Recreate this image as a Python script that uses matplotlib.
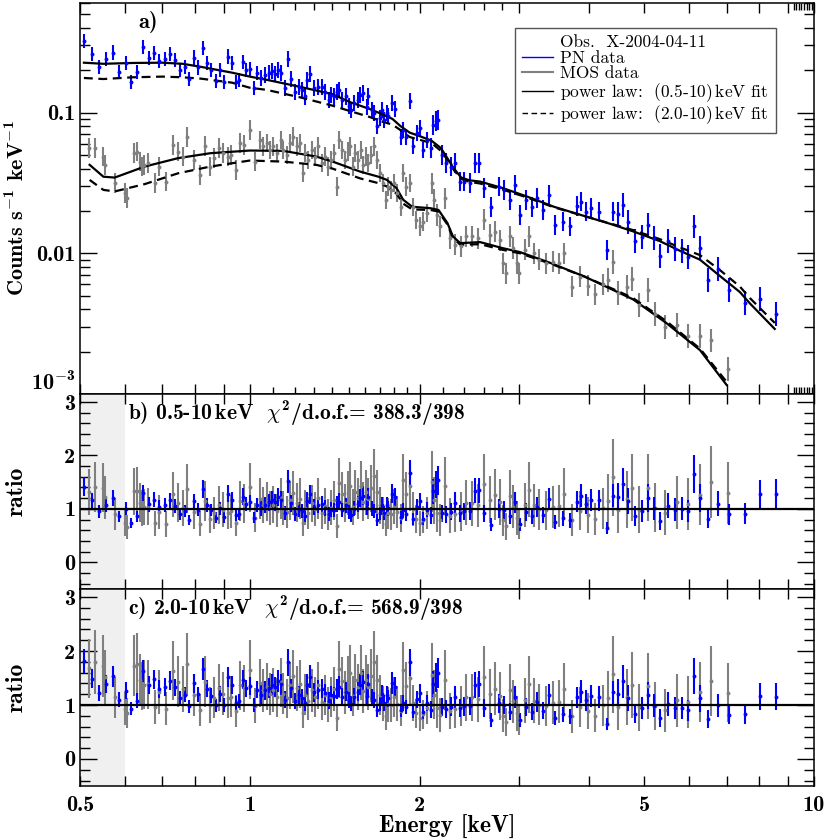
import numpy as np
import matplotlib
matplotlib.use('Agg')
import matplotlib.pyplot as plt
from matplotlib.lines import Line2D

plt.rcParams['font.family'] = 'cmb10'
plt.rcParams['mathtext.fontset'] = 'custom'
plt.rcParams['mathtext.rm'] = 'cmb10'
plt.rcParams['mathtext.bf'] = 'cmb10'
plt.rcParams['mathtext.it'] = 'cmmi10'
plt.rcParams['axes.unicode_minus'] = False

# PN spectrum (keV, counts/s/keV), error half-width in dex
pn_energy = [0.508, 0.525, 0.540, 0.556, 0.571, 0.586, 0.603, 0.615, 0.631, 0.647,
             0.662, 0.677, 0.690, 0.707, 0.722, 0.737, 0.752, 0.767, 0.780, 0.796,
             0.809, 0.826, 0.839, 0.853, 0.870, 0.884, 0.899, 0.914, 0.929, 0.944,
             0.957, 0.973, 0.985, 1.002, 1.016, 1.029,
             1.048, 1.065, 1.08, 1.093, 1.107, 1.122, 1.137, 1.155, 1.17, 1.185,
             1.20, 1.22, 1.235, 1.25, 1.265, 1.28, 1.30, 1.32, 1.34, 1.36,
             1.38, 1.39, 1.41, 1.43, 1.44, 1.457, 1.48, 1.50, 1.51, 1.53,
             1.556, 1.569, 1.59, 1.61, 1.62, 1.645, 1.66, 1.68, 1.70, 1.714,
             1.73, 1.75, 1.76, 1.785, 1.81, 1.85, 1.87, 1.89, 1.924, 1.95,
             1.98, 2.004, 2.03, 2.06,
             2.093, 2.115, 2.137, 2.157, 2.19, 2.23, 2.27, 2.31, 2.36, 2.40,
             2.458, 2.51, 2.55, 2.60, 2.68, 2.76, 2.82, 2.89, 2.95, 3.01,
             3.09, 3.16, 3.23, 3.31, 3.39, 3.47, 3.59, 3.70, 3.80, 3.87,
             3.94, 4.02, 4.16, 4.29, 4.41,
             4.50, 4.59, 4.68, 4.81, 4.95, 5.07, 5.2, 5.335, 5.5, 5.66,
             5.83, 5.99, 6.14, 6.27, 6.5, 6.77, 7.06, 7.54, 8.03, 8.56]
pn_flux = [0.32, 0.26, 0.212, 0.24, 0.267, 0.193, 0.224, 0.166, 0.193, 0.292,
           0.244, 0.265, 0.233, 0.24, 0.26, 0.237, 0.201, 0.212, 0.173, 0.246,
           0.209, 0.288, 0.224, 0.2, 0.168, 0.201, 0.166, 0.25, 0.224, 0.166,
           0.17, 0.227, 0.2, 0.203, 0.149, 0.19,
           0.175, 0.185, 0.19, 0.196, 0.187, 0.201, 0.19, 0.149, 0.24, 0.173,
           0.141, 0.152, 0.145, 0.13, 0.171, 0.187, 0.149, 0.153, 0.153, 0.141,
           0.123, 0.134, 0.13, 0.141, 0.145, 0.123, 0.13, 0.112, 0.1045, 0.116,
           0.123, 0.134, 0.137, 0.11, 0.13, 0.1045, 0.099, 0.08, 0.091, 0.1045,
           0.0887, 0.1, 0.094, 0.116, 0.106, 0.0675, 0.0753, 0.0675, 0.12, 0.0575,
           0.0715, 0.0775, 0.0543, 0.064,
           0.0557, 0.082, 0.0866, 0.0887, 0.05, 0.0437, 0.0413, 0.0437, 0.0323, 0.0323,
           0.0316, 0.0437, 0.0437, 0.029, 0.0214, 0.0298, 0.0282, 0.0239, 0.0305, 0.0187,
           0.0239, 0.0213, 0.0246, 0.0203, 0.026, 0.0159, 0.0168, 0.0155, 0.0217, 0.0233,
           0.0198, 0.0209, 0.0198, 0.0106, 0.0198,
           0.019, 0.022, 0.0168, 0.0122, 0.0131, 0.0159, 0.0128, 0.0095, 0.0122, 0.0107,
           0.0103, 0.0094, 0.0155, 0.0109, 0.0065, 0.0077, 0.0055, 0.0044, 0.0047, 0.0037]
pn_err_dex = [0.05] * 36 + [0.057] * 54 + [0.07] * 35 + [0.085] * 20

# MOS spectrum
mos_energy = [0.519, 0.532, 0.55, 0.553, 0.576, 0.60, 0.605, 0.623, 0.63, 0.64,
              0.645, 0.65, 0.66, 0.68, 0.69, 0.71, 0.73, 0.745, 0.76, 0.775,
              0.795, 0.817, 0.834, 0.85, 0.865, 0.883, 0.897, 0.913, 0.925, 0.944,
              0.96, 0.975, 1.0, 1.02,
              1.043, 1.057, 1.072, 1.086, 1.10, 1.117, 1.135, 1.147, 1.163, 1.178,
              1.194, 1.21, 1.228, 1.24, 1.254, 1.27, 1.288, 1.305, 1.322, 1.34,
              1.36, 1.377, 1.392, 1.41, 1.425, 1.44, 1.457, 1.473, 1.49, 1.506,
              1.522, 1.538, 1.555, 1.572, 1.59, 1.606, 1.623, 1.643, 1.662, 1.68,
              1.70, 1.72, 1.74, 1.76, 1.78, 1.80, 1.825, 1.85, 1.87, 1.89,
              1.92, 1.945, 1.97, 2.004, 2.03, 2.06,
              2.10, 2.12, 2.145, 2.175, 2.22, 2.265, 2.31, 2.37, 2.42, 2.48,
              2.54, 2.60, 2.66, 2.72, 2.78, 2.81, 2.85, 2.894, 2.93, 2.98,
              3.0, 3.07, 3.12, 3.19, 3.26, 3.35, 3.44, 3.53, 3.61, 3.73,
              3.85, 3.97, 4.09, 4.22,
              4.32, 4.41, 4.50, 4.66, 4.76, 4.90, 5.08, 5.23, 5.45, 5.72,
              5.99, 6.28, 6.58, 7.03]
mos_flux = [0.0557, 0.0557, 0.0487, 0.0425, 0.0314, 0.0267, 0.0246, 0.0514, 0.0528, 0.0448,
            0.0413, 0.0425, 0.0437, 0.0314, 0.0413, 0.0323, 0.0589, 0.0528, 0.0487, 0.0669,
            0.0461, 0.0361, 0.058, 0.0413, 0.0474, 0.0557, 0.0514, 0.0487, 0.05, 0.0391,
            0.0606, 0.0589, 0.0753, 0.0448,
            0.0639, 0.0575, 0.0606, 0.0543, 0.0575, 0.0514, 0.0639, 0.0543, 0.05, 0.0606,
            0.0675, 0.0575, 0.0606, 0.037, 0.0514, 0.0461, 0.0543, 0.0487, 0.0575, 0.0437,
            0.0487, 0.0413, 0.0461, 0.0514, 0.0298, 0.0639, 0.0543, 0.0461, 0.0528, 0.0575,
            0.0413, 0.0514, 0.0461, 0.0543, 0.0425, 0.0487, 0.0437, 0.05, 0.0575, 0.0461,
            0.037, 0.0314, 0.0239, 0.0298, 0.0282, 0.0314, 0.0267, 0.0214, 0.037, 0.0298,
            0.0314, 0.0214, 0.0173, 0.0155, 0.0168, 0.0193,
            0.0314, 0.0239, 0.0187, 0.0155, 0.0246, 0.0128, 0.0115, 0.0112, 0.0132, 0.0132,
            0.0128, 0.0173, 0.0135, 0.0142, 0.0124, 0.0085, 0.0072, 0.0132, 0.0109, 0.0085,
            0.0072, 0.0106, 0.0132, 0.01, 0.009, 0.0085, 0.0087, 0.0085, 0.01, 0.0058,
            0.0068, 0.0059, 0.0051, 0.006,
            0.0065, 0.0087, 0.0052, 0.0058, 0.0066, 0.0043, 0.0055, 0.0037, 0.003, 0.0031,
            0.0026, 0.0026, 0.0024, 0.0015]
mos_err_dex = [0.07] * 34 + [0.065] * 56 + [0.075] * 34 + [0.085] * 14
mos_ratio_relerr = [0.33] * 34 + [0.32] * 56 + [0.38] * 34 + [0.45] * 14

# power law fits, 0.5-10 keV (solid) and 2.0-10 keV (dashed)
pn_fit_e = [0.508, 0.55, 0.62, 0.70, 0.76, 0.82, 0.93, 1.0, 1.07, 1.23, 1.40, 1.51, 1.63,
            1.72, 1.79, 1.85, 1.92, 2.0, 2.1, 2.18, 2.25, 2.30, 2.37, 2.45, 2.56, 2.81,
            3.1, 3.46, 3.95, 4.35, 4.78, 5.33, 5.79, 6.28, 6.81, 7.39, 7.7, 8.52]
pn_fit_full = [0.226, 0.222, 0.225, 0.226, 0.222, 0.211, 0.192, 0.18, 0.171, 0.152, 0.135,
               0.118, 0.106, 0.097, 0.09, 0.08, 0.072, 0.068, 0.063, 0.056, 0.046, 0.04,
               0.0345, 0.033, 0.0323, 0.029, 0.0253, 0.0214, 0.0182, 0.0162, 0.0143,
               0.0122, 0.0104, 0.009, 0.0069, 0.0053, 0.0044, 0.0029]
pn_fit_hard = [0.176, 0.173, 0.178, 0.18, 0.178, 0.174, 0.163, 0.15, 0.145, 0.128, 0.112,
               0.102, 0.093, 0.086, 0.082, 0.075, 0.067, 0.064, 0.0606, 0.0535, 0.045,
               0.039, 0.0337, 0.0322, 0.0313, 0.0283, 0.0249, 0.0212, 0.0182, 0.0163,
               0.0146, 0.0126, 0.011, 0.0097, 0.0076, 0.0058, 0.0048, 0.0032]
mos_fit_e = [0.52, 0.55, 0.576, 0.651, 0.746, 0.851, 1.0, 1.146, 1.31, 1.40, 1.57, 1.69,
             1.75, 1.82, 1.87, 1.94, 2.09, 2.16, 2.24, 2.29, 2.36, 2.56, 2.8, 3.01, 3.42,
             3.93, 4.53, 4.78, 5.47, 6.28, 7.0]
mos_fit_full = [0.0425, 0.035, 0.0345, 0.0413, 0.0474, 0.0514, 0.0537, 0.0534, 0.0487,
                0.0449, 0.038, 0.035, 0.0332, 0.029, 0.024, 0.0214, 0.0209, 0.0203, 0.0164,
                0.0132, 0.0118, 0.012, 0.0109, 0.0102, 0.0085, 0.0068, 0.0052, 0.0047,
                0.0032, 0.00205, 0.00116]
mos_fit_hard = [0.0332, 0.0282, 0.0275, 0.031, 0.037, 0.0413, 0.0456, 0.0448, 0.0425,
                0.04, 0.034, 0.0315, 0.0298, 0.0265, 0.0225, 0.0205, 0.0203, 0.0198, 0.016,
                0.0129, 0.0115, 0.0116, 0.0106, 0.01, 0.0084, 0.0068, 0.0053, 0.0048,
                0.0033, 0.0021, 0.00122]

fit_labels = ['b) 0.5-10$\\,$keV  $\\chi^2$/d.o.f.= 388.3/398',
              'c) 2.0-10$\\,$keV  $\\chi^2$/d.o.f.= 568.9/398']

PN_COLOR = '#0000ff'
MOS_COLOR = '#808080'


def model_at(e, fit_e, fit_v):
    return 10 ** np.interp(np.log10(e), np.log10(fit_e), np.log10(fit_v))


pn_e = np.array(pn_energy)
pn_f = np.array(pn_flux)
pn_d = np.array(pn_err_dex)
mos_e = np.array(mos_energy)
mos_f = np.array(mos_flux)
mos_d = np.array(mos_err_dex)

fig = plt.figure(figsize=(8.3, 8.39), dpi=100)
ax_a = fig.add_axes([0.0964, 0.5304, 0.8843, 0.4660])
ax_b = fig.add_axes([0.0964, 0.2980, 0.8843, 0.2324])
ax_c = fig.add_axes([0.0964, 0.0632, 0.8843, 0.2348])

eb_kw = dict(fmt='o', ms=2.8, mew=0, capsize=0, elinewidth=1.5)

# spectra
ax_a.errorbar(mos_e, mos_f, yerr=[mos_f - mos_f * 10 ** -mos_d, mos_f * 10 ** mos_d - mos_f],
              color=MOS_COLOR, ecolor=MOS_COLOR, **eb_kw)
ax_a.errorbar(pn_e, pn_f, yerr=[pn_f - pn_f * 10 ** -pn_d, pn_f * 10 ** pn_d - pn_f],
              color=PN_COLOR, ecolor=PN_COLOR, **eb_kw)
ax_a.plot(pn_fit_e, pn_fit_full, color='black', lw=1.6)
ax_a.plot(pn_fit_e, pn_fit_hard, color='black', lw=1.6, ls=(0, (4, 2.5)))
ax_a.plot(mos_fit_e, mos_fit_full, color='black', lw=1.6)
ax_a.plot(mos_fit_e, mos_fit_hard, color='black', lw=1.6, ls=(0, (4, 2.5)))

ax_a.set_yscale('log')
ax_a.set_ylim(1e-3, 0.6)
ax_a.set_yticks([1e-3, 1e-2, 1e-1])
ax_a.set_yticklabels(['10$^{-3}$', '0.01', '0.1'])
ax_a.yaxis.get_major_ticks()[0].label1.set_verticalalignment('bottom')
ax_a.text(0.08, 0.951, 'a)', transform=ax_a.transAxes, fontsize=16, va='center')

handles = [Line2D([], [], color='none'),
           Line2D([], [], color=PN_COLOR, lw=1),
           Line2D([], [], color=MOS_COLOR, lw=1.5),
           Line2D([], [], color='black', lw=1),
           Line2D([], [], color='black', lw=1, ls=(0, (4, 2.5)))]
labels = ['Obs.  X-2004-04-11', 'PN data', 'MOS data',
          'power law:  (0.5-10)$\\,$keV fit', 'power law:  (2.0-10)$\\,$keV fit']
leg = ax_a.legend(handles, labels, loc='upper left', bbox_to_anchor=(0.593, 0.936),
                  borderaxespad=0, fancybox=False, edgecolor='#555555', framealpha=1,
                  prop={'family': 'cmr10', 'size': 12.5}, handlelength=1.75,
                  labelspacing=0.0, borderpad=0.4, handletextpad=0.45)
leg.get_frame().set_linewidth(1.0)

# ratio panels
for ax, pn_fit, mos_fit, label in [(ax_b, pn_fit_full, mos_fit_full, fit_labels[0]),
                                   (ax_c, pn_fit_hard, mos_fit_hard, fit_labels[1])]:
    pn_r = pn_f / model_at(pn_e, pn_fit_e, pn_fit)
    mos_r = mos_f / model_at(mos_e, mos_fit_e, mos_fit)
    ax.axvspan(0.5, 0.6, color='#f0f0f0', lw=0, zorder=0)
    ax.errorbar(mos_e, mos_r, yerr=mos_r * np.array(mos_ratio_relerr),
                color=MOS_COLOR, ecolor=MOS_COLOR, **eb_kw)
    ax.errorbar(pn_e, pn_r, yerr=pn_r * (10 ** pn_d - 1),
                color=PN_COLOR, ecolor=PN_COLOR, **eb_kw)
    ax.axhline(1, color='black', lw=1.6, zorder=5)
    ax.set_ylim(-0.5, 3.15)
    ax.set_yticks([0, 1, 2, 3])
    ax.set_yticks(np.arange(-0.4, 3.1, 0.2), minor=True)
    ax.text(0.065, 0.9, label, transform=ax.transAxes, fontsize=15.5, va='center')
    fig.text(0.02, ax.get_position().y0 + ax.get_position().height / 2, 'ratio',
             rotation=90, fontsize=17, ha='center', va='center')

xt = [0.5, 0.6, 0.7, 0.8, 0.9, 1, 2, 3, 4, 5, 6, 7, 8, 9, 10]
xl = ['0.5', '', '', '', '', '1', '2', '', '', '5', '', '', '', '', '10']
fine_ticks = [1.1, 1.2, 1.3, 1.4, 1.5, 1.6, 1.7, 1.8, 1.9, 2.2, 2.4, 2.6, 2.8,
              9.2, 9.3, 9.4, 9.5, 9.6, 9.7, 9.8, 9.9]
for ax in (ax_a, ax_b, ax_c):
    ax.set_xscale('log')
    ax.set_xlim(0.5, 10)
    ax.set_xticks(xt)
    ax.set_xticklabels(xl if ax is ax_c else [''] * len(xt))
    if ax is ax_a:
        ax.set_xticks(fine_ticks, minor=True)
        ax.xaxis.set_minor_formatter(matplotlib.ticker.NullFormatter())
    else:
        ax.xaxis.set_minor_locator(matplotlib.ticker.NullLocator())
    ax.tick_params(axis='both', which='both', direction='in', top=True, right=True,
                   labelsize=16, width=1)
    ax.tick_params(axis='x', which='major', length=7, pad=7)
    ax.tick_params(axis='x', which='minor', length=5)
    ax.tick_params(axis='y', which='major', length=12)
    ax.tick_params(axis='y', which='minor', length=7)
    for s in ax.spines.values():
        s.set_linewidth(1.1)

fig.text(0.02, 0.752, 'Counts s$^{-1}$ keV$^{-1}$', rotation=90, fontsize=16,
         ha='center', va='center')
ax_c.set_xlabel('Energy [keV]', fontsize=17, labelpad=0)

fig.savefig('out.png', dpi=100)
